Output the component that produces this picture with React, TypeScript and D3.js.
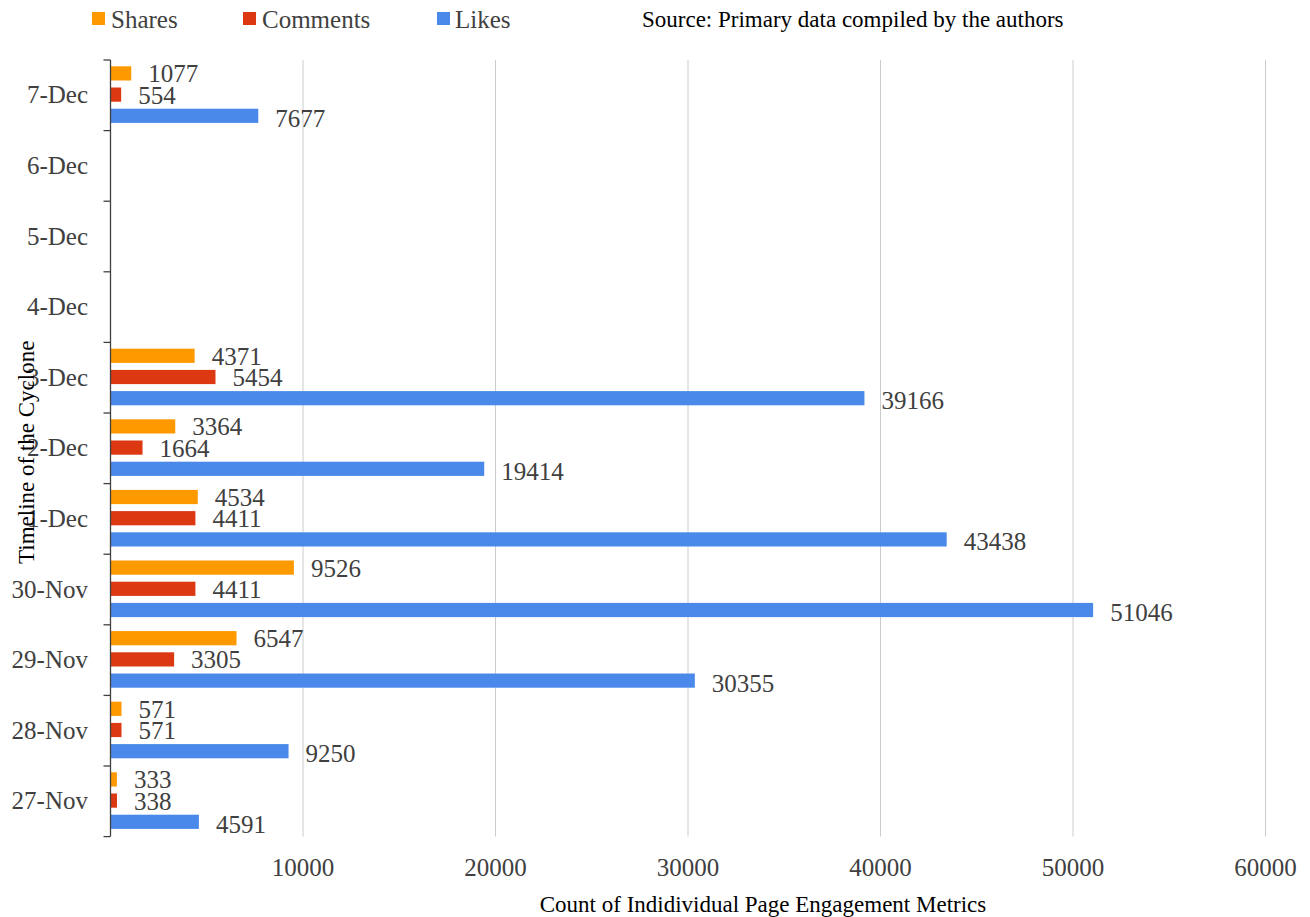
import React from "react";
import * as d3 from "d3";

// Days of the cyclone timeline, bottom to top
const days = ["27-Nov", "28-Nov", "29-Nov", "30-Nov", "1-Dec", "2-Dec", "3-Dec", "4-Dec", "5-Dec", "6-Dec", "7-Dec"];
const seriesNames = ["Shares", "Comments", "Likes"];
const seriesColors = ["#ff9900", "#dc3912", "#4a89ea"];

// Engagement counts per day (null = no data for that day)
const shares: (number | null)[] = [333, 571, 6547, 9526, 4534, 3364, 4371, null, null, null, 1077];
const comments: (number | null)[] = [338, 571, 3305, 4411, 4411, 1664, 5454, null, null, null, 554];
const likes: (number | null)[] = [4591, 9250, 30355, 51046, 43438, 19414, 39166, null, null, null, 7677];

const xTicks = [10000, 20000, 30000, 40000, 50000, 60000];

const W = 1310;
const H = 917;
const margin = { left: 110.5, right: 44.5, top: 60, bottom: 80 };

export default function App() {
  const innerBottom = H - margin.bottom - 0.4;
  const x = d3.scaleLinear().domain([0, 60000]).range([margin.left, W - margin.right]);
  // Top of the chart holds the latest day
  const y = d3
    .scaleBand<string>()
    .domain([...days].reverse())
    .range([margin.top, innerBottom])
    .paddingInner(0)
    .paddingOuter(0);
  const inner = d3
    .scaleBand<string>()
    .domain(seriesNames)
    .range([0, y.bandwidth()])
    .paddingInner(0.33)
    .paddingOuter(0.33)
    .align(0.45);

  const values = [shares, comments, likes];
  const labelFont = "'Liberation Serif', 'Times New Roman', serif";
  const boundaries = [...days.map((d) => y(d) as number), innerBottom];

  return (
    <svg width={W} height={H} style={{ position: "absolute", left: 0, top: 0, background: "#fff" }}>
      {/* Legend */}
      <g fontFamily={labelFont} fontSize={25} fill="#404040">
        {[
          { sx: 92, tx: 111 },
          { sx: 243, tx: 262 },
          { sx: 437, tx: 455 },
        ].map((p, i) => (
          <g key={seriesNames[i]}>
            <rect x={p.sx} y={12} width={13} height={13} fill={seriesColors[i]} />
            <text x={p.tx} y={28}>
              {seriesNames[i]}
            </text>
          </g>
        ))}
      </g>
      <text x={642} y={27} fontFamily={labelFont} fontSize={23} fill="#000">
        Source: Primary data compiled by the authors
      </text>

      {/* Vertical gridlines */}
      {xTicks.map((t) => (
        <line key={t} x1={x(t)} x2={x(t)} y1={margin.top} y2={innerBottom} stroke="#cccccc" strokeWidth={1} />
      ))}

      {/* Bars */}
      {days.map((d, di) =>
        seriesNames.map((s, si) => {
          const v = values[si][di];
          if (v == null) return null;
          const by = (y(d) as number) + (inner(s) as number);
          return (
            <rect
              key={d + s}
              x={x(0)}
              y={by}
              width={x(v) - x(0)}
              height={inner.bandwidth()}
              fill={seriesColors[si]}
            />
          );
        })
      )}

      {/* Value labels */}
      <g fontFamily={labelFont} fontSize={25} fill="#404040">
        {days.map((d, di) =>
          seriesNames.map((s, si) => {
            const v = values[si][di];
            if (v == null) return null;
            const by = (y(d) as number) + (inner(s) as number) + inner.bandwidth() / 2;
            return (
              <text key={d + s} x={x(v) + 17} y={by + 9 + (si === 2 ? 2 : 0)}>
                {v}
              </text>
            );
          })
        )}
      </g>

      {/* Y axis */}
      <line x1={margin.left} x2={margin.left} y1={margin.top} y2={innerBottom} stroke="#404040" strokeWidth={1.3} />
      {boundaries.map((b, i) => (
        <line key={i} x1={margin.left - 7} x2={margin.left} y1={b} y2={b} stroke="#404040" strokeWidth={1.3} />
      ))}
      <g fontFamily={labelFont} fontSize={25} fill="#404040" textAnchor="end">
        {days.map((d) => (
          <text key={d} x={88} y={(y(d) as number) + y.bandwidth() / 2 + 8}>
            {d}
          </text>
        ))}
      </g>

      {/* X tick labels */}
      <g fontFamily={labelFont} fontSize={25} fill="#404040" textAnchor="middle">
        {xTicks.map((t) => (
          <text key={t} x={x(t)} y={876}>
            {t}
          </text>
        ))}
      </g>

      {/* Axis titles */}
      <text x={763} y={912} fontFamily={labelFont} fontSize={23} fill="#000" textAnchor="middle">
        Count of Indidividual Page Engagement Metrics
      </text>
      <text
        transform={`translate(34, ${(margin.top + innerBottom) / 2 + 4}) rotate(-90)`}
        fontFamily={labelFont}
        fontSize={23}
        fill="#000"
        textAnchor="middle"
      >
        Timeline of the Cyclone
      </text>
    </svg>
  );
}
